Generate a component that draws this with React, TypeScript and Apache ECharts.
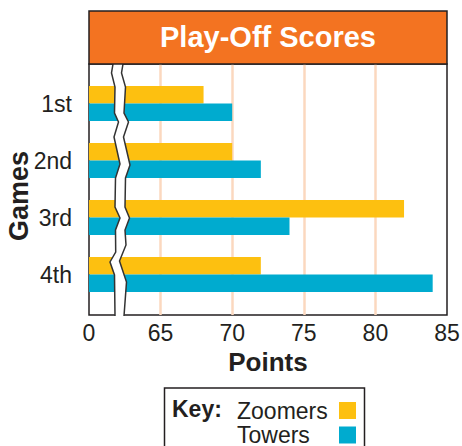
import React, { useEffect, useRef } from "react";
import * as echarts from "echarts";

const games = ["1st", "2nd", "3rd", "4th"];
const zoomers = [68, 70, 82, 72];
const towers = [70, 72, 74, 84];
const axisMin = 60;
const axisMax = 85;
const axisStep = 5;
const brokenStartLabel = "0";
const seriesNames = ["Zoomers", "Towers"];
const titleText = "Play-Off Scores";

const FONT = "'Liberation Sans', Arial, Helvetica, sans-serif";
const INK = "#231f20";

// decorative axis-break zigzag (left and right edges)
const breakLeft = [[113,64],[111.5,73],[115,87],[114.5,113],[118.5,122],[114,137],[120,164],[115.5,178],[115,207],[120,218],[115.5,230],[115.7,252],[110,262],[114.5,275],[115,316]];
const breakRight = [[123,64],[121.5,73],[125.5,87],[124,113],[128.5,122],[123.5,137],[130,165],[125.5,178],[125,207],[129.5,218],[125,230],[126,245],[119.5,261],[126.5,282],[124,316]];

const legendFor = (name: string, top: number) => ({
  orient: "vertical", left: 237, top, align: "right", z: 20,
  itemWidth: 17, itemHeight: 17, padding: 0, icon: "rect",
  data: [name],
  formatter: (n: string) => `{n|${n}}`,
  textStyle: {
    fontSize: 23, color: INK, fontFamily: FONT, lineHeight: 18,
    rich: { n: { width: 97, height: 18, align: "left", fontSize: 23, color: INK, fontFamily: FONT, lineHeight: 18 } },
  },
});

export default function App() {
  const ref = useRef<HTMLDivElement>(null);
  useEffect(() => {
    if (!ref.current) return;
    const chart = echarts.init(ref.current, undefined, { renderer: "svg" });
    const option: any = {
      animation: false,
      backgroundColor: "#ffffff",
      textStyle: { fontFamily: FONT },
      grid: [
        { left: 89, right: 15, top: 64, bottom: 131, show: true, borderColor: INK, borderWidth: 1.5, backgroundColor: "transparent", outerBoundsMode: "none", containLabel: false },
        { left: 89, right: 15, top: 75, bottom: 143, outerBoundsMode: "none", containLabel: false },
      ],
      xAxis: [
        {
          gridIndex: 0, type: "value", min: axisMin, max: axisMax, interval: axisStep,
          axisLine: { show: false }, axisTick: { show: false },
          splitLine: { show: true, showMinLine: false, showMaxLine: false, lineStyle: { color: "#fbd8bf", width: 2.5 } },
          axisLabel: { fontSize: 23, color: INK, fontFamily: FONT, margin: 6,
            formatter: (v: number) => (v === axisMin ? brokenStartLabel : String(v)) },
          name: "Points", nameLocation: "middle", nameGap: 34, nameMoveOverlap: false,
          nameTextStyle: { fontSize: 26, fontWeight: "bold", color: INK, fontFamily: FONT },
        },
        {
          gridIndex: 1, type: "value", min: axisMin, max: axisMax, interval: axisStep, startValue: axisMin,
          show: false, splitLine: { show: false },
        },
      ],
      yAxis: [
        { gridIndex: 0, type: "value", min: 0, max: 1, show: false },
        {
          gridIndex: 1, type: "category", data: games, inverse: true,
          axisLine: { show: false }, axisTick: { show: false },
          axisLabel: { fontSize: 23, color: INK, fontFamily: FONT, margin: 17 },
          name: "Games", nameLocation: "middle", nameGap: 57, nameRotate: 90, nameMoveOverlap: false,
          nameTextStyle: { fontSize: 27, fontWeight: "bold", color: INK, fontFamily: FONT, padding: [0, 14, 0, 0] },
        },
      ],
      legend: [legendFor(seriesNames[0], 399), legendFor(seriesNames[1], 423.5)],
      series: [
        { name: seriesNames[0], type: "bar", xAxisIndex: 1, yAxisIndex: 1, data: zoomers,
          itemStyle: { color: "#fdc010" }, barGap: "0%", barCategoryGap: "39%" },
        { name: seriesNames[1], type: "bar", xAxisIndex: 1, yAxisIndex: 1, data: towers,
          itemStyle: { color: "#00abcf" }, barGap: "0%", barCategoryGap: "39%" },
      ],
      graphic: [
        { type: "rect", z: -1, shape: { x: 164.5, y: 388, width: 200, height: 70 }, style: { fill: "#ffffff", stroke: INK, lineWidth: 1.5 } },
        { type: "polygon", z: 100, shape: { points: [...breakLeft, ...breakRight.slice().reverse()] }, style: { fill: "#ffffff" } },
        { type: "polyline", z: 101, shape: { points: breakLeft }, style: { stroke: "#333333", lineWidth: 1.5, fill: null } },
        { type: "polyline", z: 101, shape: { points: breakRight }, style: { stroke: "#333333", lineWidth: 1.5, fill: null } },
        { type: "rect", z: 110, shape: { x: 89, y: 11, width: 358, height: 53 }, style: { fill: "#f37321", stroke: INK, lineWidth: 1.5 } },
        { type: "text", z: 111, x: 268, y: 37, style: { text: titleText, fill: "#ffffff", font: `bold 29px ${FONT}`, align: "center", verticalAlign: "middle" } },
        { type: "text", z: 111, x: 172, y: 409, style: { text: "Key:", fill: INK, font: `bold 23px ${FONT}`, align: "left", verticalAlign: "middle" } },
      ],
    };
    chart.setOption(option);
    return () => chart.dispose();
  }, []);
  return <div ref={ref} style={{ position: "fixed", left: 0, top: 0, width: 462, height: 446 }} />;
}
